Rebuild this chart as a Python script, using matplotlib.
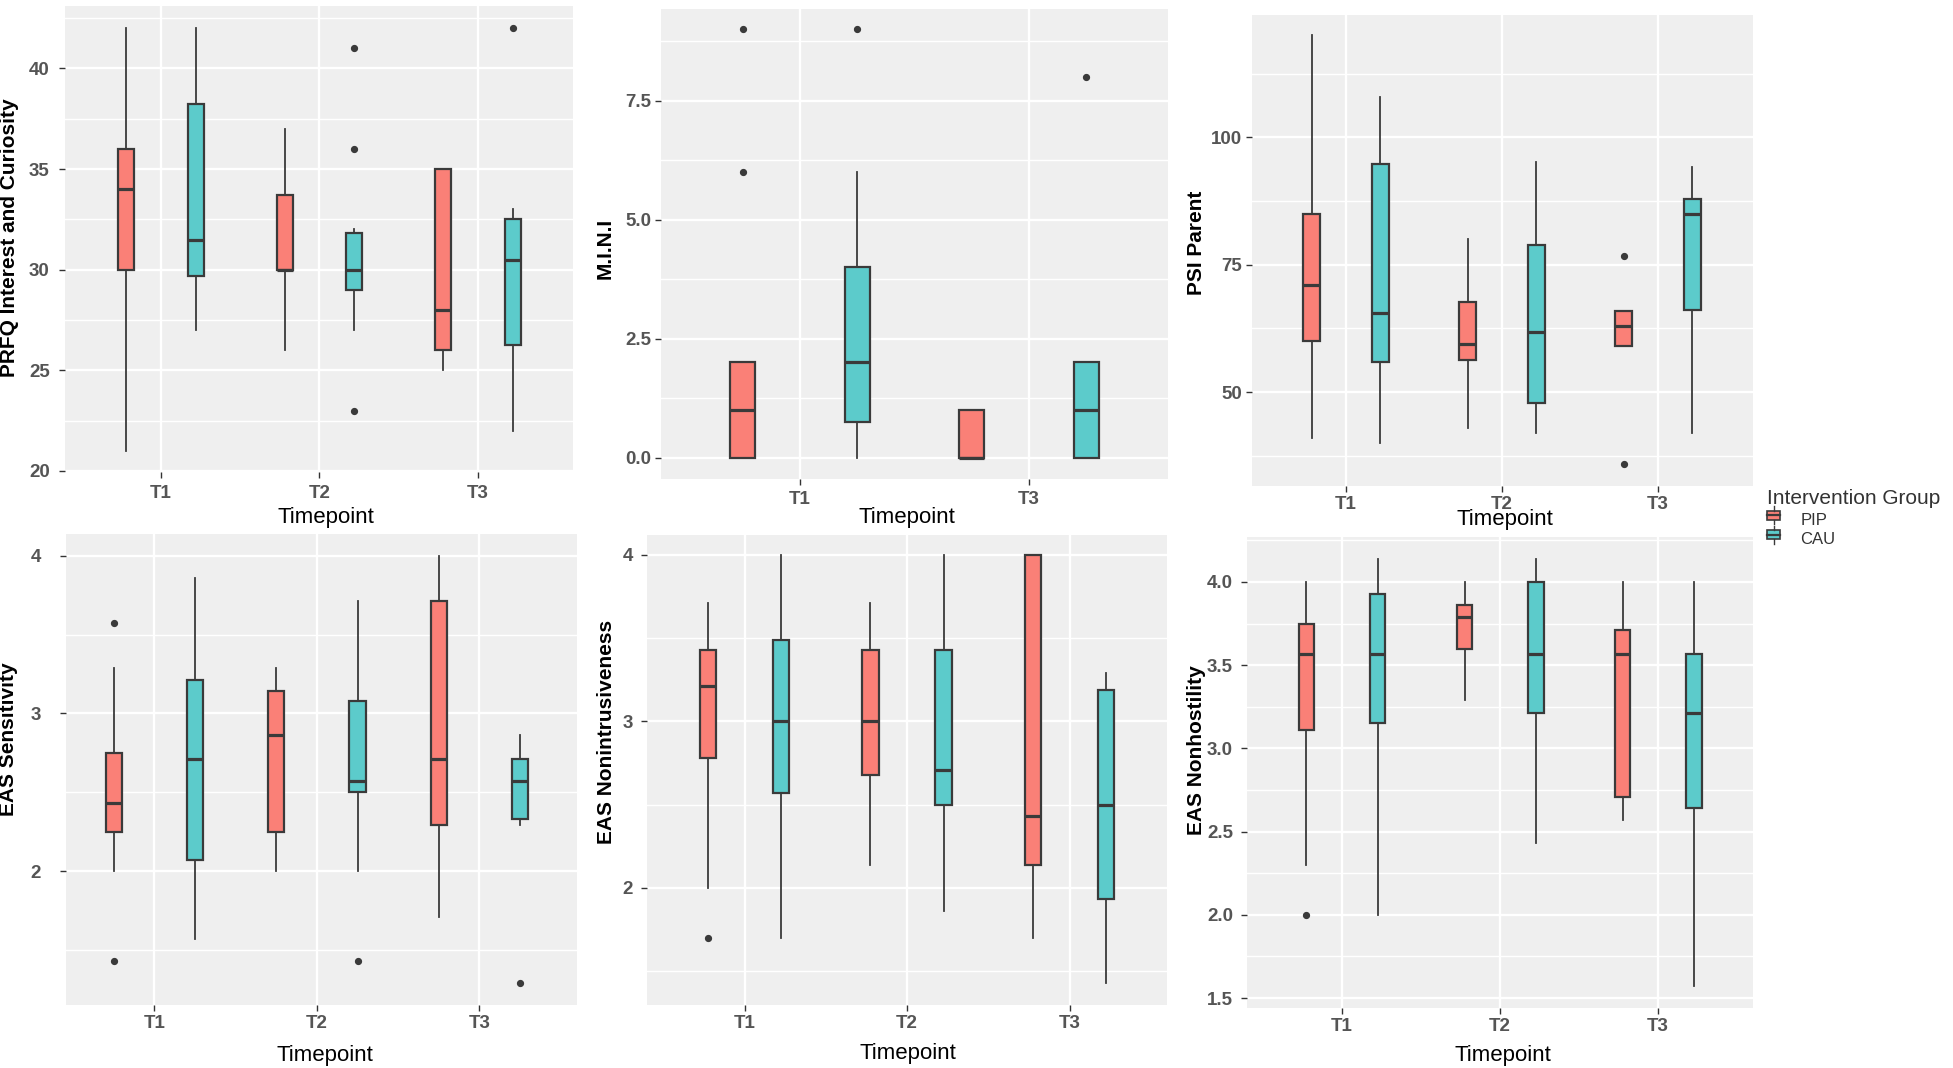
import matplotlib
matplotlib.use("Agg")
import matplotlib.pyplot as plt
from matplotlib.legend_handler import HandlerBase
from matplotlib.patches import Rectangle
from matplotlib.lines import Line2D

plt.rcParams['font.family'] = ['Liberation Sans', 'DejaVu Sans']

# ---------------- data: [whislo, q1, median, q3, whishi] per timepoint ----------------
groups = ["PIP", "CAU"]
group_colors = ["#FA8077", "#5CCBCB"]

prfq_ticks = ["T1", "T2", "T3"]
prfq_pip = [[21, 30, 34, 36, 42], [26, 30, 30, 33.7, 37], [25, 26, 28, 35, 35]]
prfq_cau = [[27, 29.7, 31.5, 38.25, 42], [27, 29, 30, 31.8, 32], [22, 26.25, 30.5, 32.5, 33]]
prfq_pip_out = [[], [], []]
prfq_cau_out = [[], [41, 36, 23], [42]]

mini_ticks = ["T1", "T3"]
mini_pip = [[0, 0, 1, 2, 2], [0, 0, 0, 1, 1]]
mini_cau = [[0, 0.75, 2, 4, 6], [0, 0, 1, 2, 2]]
mini_pip_out = [[9, 6], []]
mini_cau_out = [[9], [8]]

psi_ticks = ["T1", "T2", "T3"]
psi_pip = [[41, 60, 71, 85, 120], [43, 56.4, 59.5, 67.6, 80], [59, 59, 63, 66, 66]]
psi_cau = [[40, 55.9, 65.5, 94.7, 108], [42, 47.8, 61.9, 78.9, 95.1], [42, 66.2, 85, 88, 94.1]]
psi_pip_out = [[], [], [76.8, 35.9]]
psi_cau_out = [[], [], []]

sens_ticks = ["T1", "T2", "T3"]
sens_pip = [[2.0, 2.25, 2.43, 2.75, 3.29], [2.0, 2.25, 2.86, 3.14, 3.29], [1.71, 2.29, 2.71, 3.71, 4.0]]
sens_cau = [[1.57, 2.07, 2.71, 3.21, 3.86], [2.0, 2.5, 2.57, 3.08, 3.71], [2.29, 2.33, 2.57, 2.71, 2.86]]
sens_pip_out = [[3.57, 1.43], [], []]
sens_cau_out = [[], [1.43], [1.29]]

nonint_ticks = ["T1", "T2", "T3"]
nonint_pip = [[2.0, 2.78, 3.21, 3.43, 3.71], [2.14, 2.68, 3.0, 3.43, 3.71], [1.7, 2.14, 2.43, 4.0, 4.0]]
nonint_cau = [[1.7, 2.57, 3.0, 3.49, 4.0], [1.86, 2.5, 2.71, 3.43, 4.0], [1.43, 1.93, 2.5, 3.19, 3.29]]
nonint_pip_out = [[1.7], [], []]
nonint_cau_out = [[], [], []]

nonhos_ticks = ["T1", "T2", "T3"]
nonhos_pip = [[2.3, 3.11, 3.57, 3.75, 4.0], [3.29, 3.6, 3.79, 3.86, 4.0], [2.57, 2.71, 3.57, 3.71, 4.0]]
nonhos_cau = [[2.0, 3.15, 3.57, 3.93, 4.14], [2.43, 3.21, 3.57, 4.0, 4.14], [1.57, 2.64, 3.21, 3.57, 4.0]]
nonhos_pip_out = [[2.0], [], []]
nonhos_cau_out = [[], [], []]

# ---------------- layout (pixel boxes etc.) ----------------
W, H = 1953, 1068
fig = plt.figure(figsize=(W / 100, H / 100), dpi=100)

BG = "#EFEFEF"
EDGE = "#3A3A3A"
TICKC = "#555555"

panels = [
    dict(box=(65, 6, 573, 472), xlim=(0.394, 3.60), ylim=(19.95, 43.1),
         major=[20, 25, 30, 35, 40], minor=[22.5, 27.5, 32.5, 37.5, 42.5], fmt="{:g}",
         ylabel="PRFQ Interest and Curiosity", ticks=prfq_ticks,
         pip=prfq_pip, cau=prfq_cau, pip_out=prfq_pip_out, cau_out=prfq_cau_out,
         off=0.22, width=0.10, xlab=(326, 518), ylab=(10, 238), ypad=7, xpad=5),
    dict(box=(661, 9, 1168, 479), xlim=(0.393, 2.607), ylim=(-0.45, 9.43),
         major=[0, 2.5, 5, 7.5], minor=[1.25, 3.75, 6.25, 8.75], fmt="{:.1f}",
         ylabel="M.I.N.I", ticks=mini_ticks,
         pip=mini_pip, cau=mini_cau, pip_out=mini_pip_out, cau_out=mini_cau_out,
         off=0.25, width=0.11, xlab=(907, 517), ylab=(605, 248), ypad=3, xpad=5),
    dict(box=(1252, 15, 1753, 486), xlim=(0.397, 3.61), ylim=(31.6, 124.0),
         major=[50, 75, 100], minor=[37.5, 62.5, 87.5, 112.5], fmt="{:g}",
         ylabel="PSI Parent", ticks=psi_ticks,
         pip=psi_pip, cau=psi_cau, pip_out=psi_pip_out, cau_out=psi_cau_out,
         off=0.22, width=0.11, xlab=(1505, 520), ylab=(1197, 243), ypad=3, xpad=3),
    dict(box=(66, 534, 577, 1005), xlim=(0.457, 3.60), ylim=(1.152, 4.137),
         major=[2, 3, 4], minor=[1.5, 2.5, 3.5], fmt="{:g}",
         ylabel="EAS Sensitivity", ticks=sens_ticks,
         pip=sens_pip, cau=sens_cau, pip_out=sens_pip_out, cau_out=sens_cau_out,
         off=0.25, width=0.10, xlab=(325, 1055), ylab=(9, 739), ypad=14, xpad=3),
    dict(box=(647, 535, 1167, 1005), xlim=(0.40, 3.60), ylim=(1.296, 4.12),
         major=[2, 3, 4], minor=[1.5, 2.5, 3.5], fmt="{:g}",
         ylabel="EAS Nonintrusiveness", ticks=nonint_ticks,
         pip=nonint_pip, cau=nonint_cau, pip_out=nonint_pip_out, cau_out=nonint_cau_out,
         off=0.225, width=0.10, xlab=(908, 1053), ylab=(607, 732), ypad=6, xpad=3),
    dict(box=(1247, 537, 1753, 1008), xlim=(0.399, 3.60), ylim=(1.44, 4.27),
         major=[1.5, 2.0, 2.5, 3.0, 3.5, 4.0], minor=[1.75, 2.25, 2.75, 3.25, 3.75, 4.25], fmt="{:.1f}",
         ylabel="EAS Nonhostility", ticks=nonhos_ticks,
         pip=nonhos_pip, cau=nonhos_cau, pip_out=nonhos_pip_out, cau_out=nonhos_cau_out,
         off=0.225, width=0.10, xlab=(1503, 1055), ylab=(1197, 750), ypad=6, xpad=3),
]


def make_stats(rows, outs):
    st = []
    for r, o in zip(rows, outs):
        st.append(dict(whislo=r[0], q1=r[1], med=r[2], q3=r[3], whishi=r[4], fliers=o))
    return st


for p in panels:
    x0, y0, x1, y1 = p["box"]
    ax = fig.add_axes([x0 / W, 1 - y1 / H, (x1 - x0) / W, (y1 - y0) / H])
    ax.set_facecolor(BG)
    for s in ax.spines.values():
        s.set_visible(False)
    ax.set_xlim(*p["xlim"])
    ax.set_ylim(*p["ylim"])
    n = len(p["ticks"])
    cats = list(range(1, n + 1))
    ax.set_xticks(cats)
    ax.set_xticklabels(p["ticks"])
    ax.set_yticks(p["major"])
    ax.set_yticklabels([p["fmt"].format(v) for v in p["major"]])
    ax.set_yticks(p["minor"], minor=True)
    ax.grid(True, which="major", color="white", lw=1.7)
    ax.grid(True, which="minor", axis="y", color="white", lw=1.0)
    ax.set_axisbelow(True)
    ax.tick_params(axis="both", which="major", length=4, width=1.0, color="#333333",
                   labelsize=13.5, labelcolor=TICKC)
    ax.tick_params(axis="y", which="major", pad=p["ypad"])
    ax.tick_params(axis="x", which="major", pad=p["xpad"])
    ax.tick_params(which="minor", length=0)
    for lab in ax.get_xticklabels() + ax.get_yticklabels():
        lab.set_fontweight("bold")

    for gi, (rows, outs) in enumerate([(p["pip"], p["pip_out"]), (p["cau"], p["cau_out"])]):
        sign = -1 if gi == 0 else 1
        pos = [c + sign * p["off"] for c in cats]
        ax.bxp(make_stats(rows, outs), positions=pos, widths=p["width"],
               patch_artist=True, showcaps=False, manage_ticks=False,
               boxprops=dict(facecolor=group_colors[gi], edgecolor=EDGE, lw=1.6),
               medianprops=dict(color=EDGE, lw=2.3, solid_capstyle="butt"),
               whiskerprops=dict(color=EDGE, lw=1.3),
               flierprops=dict(marker="o", markersize=4.2, markerfacecolor=EDGE,
                               markeredgecolor=EDGE))

    # axis titles (placed in pixel-derived axes coordinates)
    ax.set_xlabel("Timepoint", fontsize=16, color="black")
    ax.xaxis.set_label_coords((p["xlab"][0] - x0) / (x1 - x0), (y1 - p["xlab"][1]) / (y1 - y0))
    ax.xaxis.label.set_va("center")
    ax.set_ylabel(p["ylabel"], fontsize=15, fontweight="bold", color="black")
    ax.yaxis.set_label_coords((p["ylab"][0] - x0) / (x1 - x0), (y1 - p["ylab"][1]) / (y1 - y0))
    ax.yaxis.label.set_va("center")


# ---------------- legend with mini boxplot keys ----------------
class BoxKey(HandlerBase):
    def create_artists(self, legend, orig, xd, yd, w, h, fontsize, trans):
        fc = orig.get_facecolor()
        cx = xd + w / 2
        rect = Rectangle((xd, yd + h * 0.2), w, h * 0.6, facecolor=fc, edgecolor=EDGE,
                         lw=1.2, transform=trans)
        med = Line2D([xd, xd + w], [yd + h * 0.5] * 2, color=EDGE, lw=1.6, transform=trans)
        wh1 = Line2D([cx, cx], [yd - h * 0.1, yd + h * 0.2], color=EDGE, lw=1.0, transform=trans)
        wh2 = Line2D([cx, cx], [yd + h * 0.8, yd + h * 1.1], color=EDGE, lw=1.0, transform=trans)
        return [rect, med, wh1, wh2]


handles = [Rectangle((0, 0), 1, 1, facecolor=c) for c in group_colors]
leg = fig.legend(handles, groups, title="Intervention Group",
                 handler_map={Rectangle: BoxKey()},
                 loc="upper left", bbox_to_anchor=(1752 / W, 1 - 474 / H),
                 frameon=False, fontsize=12, title_fontsize=15,
                 handlelength=0.8, handleheight=1.0, handletextpad=1.2,
                 labelspacing=0.2, alignment="left")
leg.get_title().set_color("#333333")
for t in leg.get_texts():
    t.set_color("#333333")

fig.savefig("out.png", dpi=100, facecolor="white")
